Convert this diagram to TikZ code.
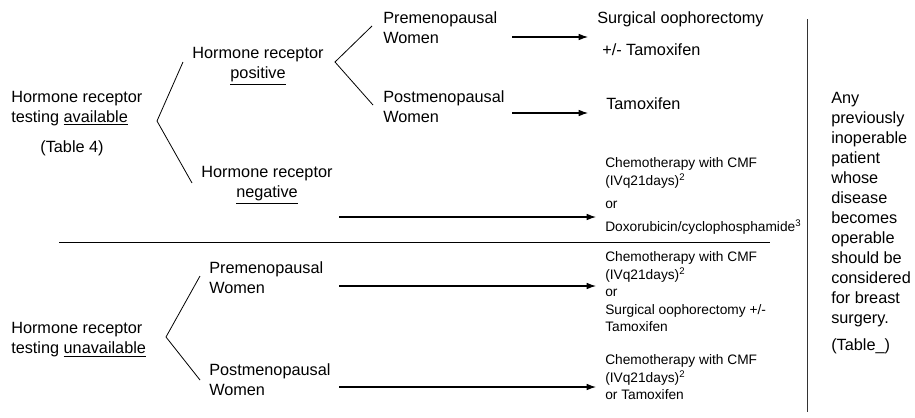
\documentclass[tikz,border=0pt]{standalone}
\usepackage{fontspec}
\setmainfont{Liberation Sans}
\usepackage{tikz}
\usetikzlibrary{positioning,arrows.meta}

\tikzset{
  bigtext/.style={inner sep=0pt, align=left, font=\fontsize{12.2}{15}\selectfont},
  smalltext/.style={inner sep=0pt, align=left, font=\fontsize{10.3}{13.1}\selectfont},
  treat/.style={-{Latex[length=7pt,width=5pt]}, line width=0.8pt},
  fork/.style={line width=0.6pt},
}

\begin{document}
\begin{tikzpicture}[x=0.75pt,y=0.75pt,yscale=-1,xscale=1]
\useasboundingbox (0,0) rectangle (915,418);

% Text Node
\node (avail) [bigtext, anchor=west] at (11,108.4) {Hormone receptor\\testing \underline{available}};
% Text Node
\node (tab4) [bigtext] at (72,148.5) {(Table 4)};
% Text Node
\node (pos) [bigtext, align=center] at (258,66) {Hormone receptor\\\underline{positive}};
% Text Node
\node (neg) [bigtext, align=center] at (267,185.4) {Hormone receptor\\\underline{negative}};
% Text Node
\node (pre1) [bigtext, anchor=west] at (383,28) {Premenopausal\\Women};
% Text Node
\node (post1) [bigtext, anchor=west] at (383,107) {Postmenopausal\\Women};
% Text Node
\node (surg) [bigtext, anchor=west] at (597,19.5) {Surgical oophorectomy};
% Text Node
\node (surgtam) [bigtext, anchor=west] at (602,49.5) {+/- Tamoxifen};
% Text Node
\node (tam) [bigtext, anchor=west] at (606,104) {Tamoxifen};
% Text Node
\node (chemo1) [smalltext, anchor=north west] at (605,157.6) {Chemotherapy with CMF\\(IVq21days)\textsuperscript{2}\\[4.1pt]or\\[4.1pt]Doxorubicin/cyclophosphamide\textsuperscript{3}};
% Text Node
\node (unavail) [bigtext, anchor=west] at (11,340) {Hormone receptor\\testing \underline{unavailable}};
% Text Node
\node (pre2) [bigtext, anchor=west] at (209,278) {Premenopausal\\Women};
% Text Node
\node (post2) [bigtext, anchor=west] at (209,380) {Postmenopausal\\Women};
% Text Node
\node (chemo2) [smalltext, anchor=north west] at (605,251.6) {Chemotherapy with CMF\\(IVq21days)\textsuperscript{2}\\or\\Surgical oophorectomy +/-\\Tamoxifen};
% Text Node
\node (chemo3) [smalltext, anchor=north west] at (605,354.6) {Chemotherapy with CMF\\(IVq21days)\textsuperscript{2}\\or Tamoxifen};
% Text Node
\node (note) [bigtext, anchor=north west] at (831,91.8) {Any\\previously\\inoperable\\patient\\whose\\disease\\becomes\\operable\\should be\\considered\\for breast\\surgery.\\[5.2pt](Table\_)};

% Coordinates
\coordinate (f1) at (157,121);
\coordinate (f1a) at (183,62);
\coordinate (f1b) at (192,183);
\coordinate (f2) at (335,62);
\coordinate (f2a) at (372,26);
\coordinate (f2b) at (373,105);
\coordinate (f3) at (166,337);
\coordinate (f3a) at (200,276);
\coordinate (f3b) at (200,380);
\coordinate (a1s) at (512,37);
\coordinate (a1e) at (588,37);
\coordinate (a2s) at (512,113);
\coordinate (a2e) at (588,113);
\coordinate (a3s) at (339,217);
\coordinate (a3e) at (596,217);
\coordinate (a4s) at (339,286);
\coordinate (a4e) at (596,286);
\coordinate (a5s) at (339,387);
\coordinate (a5e) at (596,387);
\coordinate (sepl) at (59,242);
\coordinate (sepr) at (770,242);
\coordinate (vtop) at (807,19);
\coordinate (vbot) at (807,412);

%Straight Lines
\draw [fork] (f1a) -- (f1) -- (f1b);
\draw [fork] (f2a) -- (f2) -- (f2b);
\draw [fork] (f3a) -- (f3) -- (f3b);
%Straight Lines
\draw [treat] (a1s) -- (a1e);
\draw [treat] (a2s) -- (a2e);
\draw [treat] (a3s) -- (a3e);
\draw [treat] (a4s) -- (a4e);
\draw [treat] (a5s) -- (a5e);
%Straight Lines
\draw [line width=0.75pt] (sepl) -- (sepr);
\draw [line width=0.75pt, black!80] (vtop) -- (vbot);
\end{tikzpicture}
\end{document}
